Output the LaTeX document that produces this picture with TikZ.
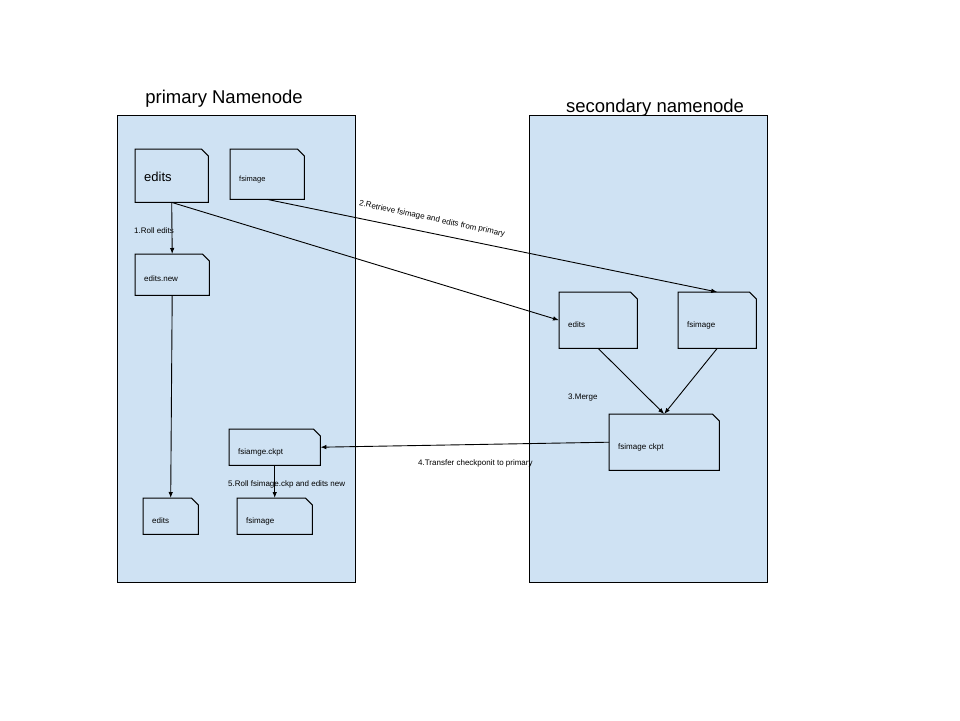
\documentclass[tikz,border=0pt]{standalone}
\usepackage{fontspec}
\setmainfont{Liberation Sans}
\definecolor{nodefill}{RGB}{207, 226, 243}
\usetikzlibrary{arrows.meta, positioning}
\tikzset{
	every picture/.style={x=1pt,y=-1pt},
}
\begin{document}
\begin{tikzpicture}[
		namenode/.style={draw, fill=nodefill, line width=1pt},
		title/.style={font=\fontsize{18.5}{22}\selectfont},
		doc/.style 2 args={rectangle, anchor=north west, align=left,
			inner xsep=9pt, inner ysep=0pt, font=\fontsize{8}{9.6}\selectfont,
			text height=1.4em, text depth=0pt,
			minimum width=#1pt, minimum height=#2pt,
			/utils/exec={\pgfmathsetmacro\doctextwidth{#1-18}}, text width=\doctextwidth pt,
			append after command={\pgfextra{\let\docnode=\tikzlastnode
				\draw[line width=1pt, line join=miter] (\docnode.north west) -- ([xshift=-7pt]\docnode.north east)
					-- ([yshift=-7pt]\docnode.north east) -- (\docnode.south east) -- (\docnode.south west) -- cycle;}}},
		flow/.style={-{Latex[length=6pt,width=4.5pt]}, line width=0.9pt},
		steplabel/.style={anchor=west, inner sep=0pt, font=\fontsize{8}{9.6}\selectfont}]
	\useasboundingbox[fill=white] (0,0) rectangle (960,720);
	% the two namenodes
	\draw[namenode] (117,115) rectangle (355,582) coordinate (primary);
	\draw[namenode] (529,115) rectangle (767,582) coordinate (secondary);
	\node[title] (primarytitle) at (224,99) {primary Namenode};
	\node[title] (secondarytitle) at (655,108) {secondary namenode};
	% files on the primary
	\node[doc={73}{53}, font=\fontsize{13}{15}\selectfont, text height=1.1em, inner xsep=8pt] (edits) at (135,149) {edits};
	\node[doc={74}{50}, font=\fontsize{7.5}{9}\selectfont] (fsimage) at (230,149) {fsimage};
	\node[doc={74}{41}] (editsnew) at (135,254) {edits.new};
	\node[doc={91}{36}] (fsiamgeckpt) at (229,429) {fsiamge.ckpt};
	\node[doc={55}{36}] (botedits) at (143,498) {edits};
	\node[doc={75}{36}] (botfsimage) at (237,498) {fsimage};
	% files on the secondary
	\node[doc={78}{56}] (secedits) at (559,292) {edits};
	\node[doc={78}{56}] (secfsimage) at (678,292) {fsimage};
	\node[doc={110}{56}] (ckpt) at (609,414) {fsimage ckpt};
	% steps
	\draw[flow] (edits.south) -- (editsnew.north);
	\draw[flow] (edits.south) -- (secedits.west);
	\draw[flow] (fsimage.south) -- (secfsimage.north);
	\draw[flow] (editsnew.south) -- (botedits.north);
	\draw[flow] (secedits.south) -- (ckpt.north);
	\draw[flow] (secfsimage.south) -- (ckpt.north);
	\draw[flow] (ckpt.west) -- (fsiamgeckpt.east);
	\draw[flow] (fsiamgeckpt.south) -- (botfsimage.north);
	\node[steplabel] (rolllabel) at (134,231) {1.Roll edits};
	\node[steplabel, anchor=center, rotate=-12] (retrievelabel) at (432,219) {2.Retrieve fsimage and edits from primary};
	\node[steplabel] (mergelabel) at (568,398) {3.Merge};
	\node[steplabel] (transferlabel) at (418,463) {4.Transfer checkponit to primary};
	\node[steplabel] (rollckptlabel) at (228,484) {5.Roll fsimage.ckp and edits new};
\end{tikzpicture}
\end{document}
